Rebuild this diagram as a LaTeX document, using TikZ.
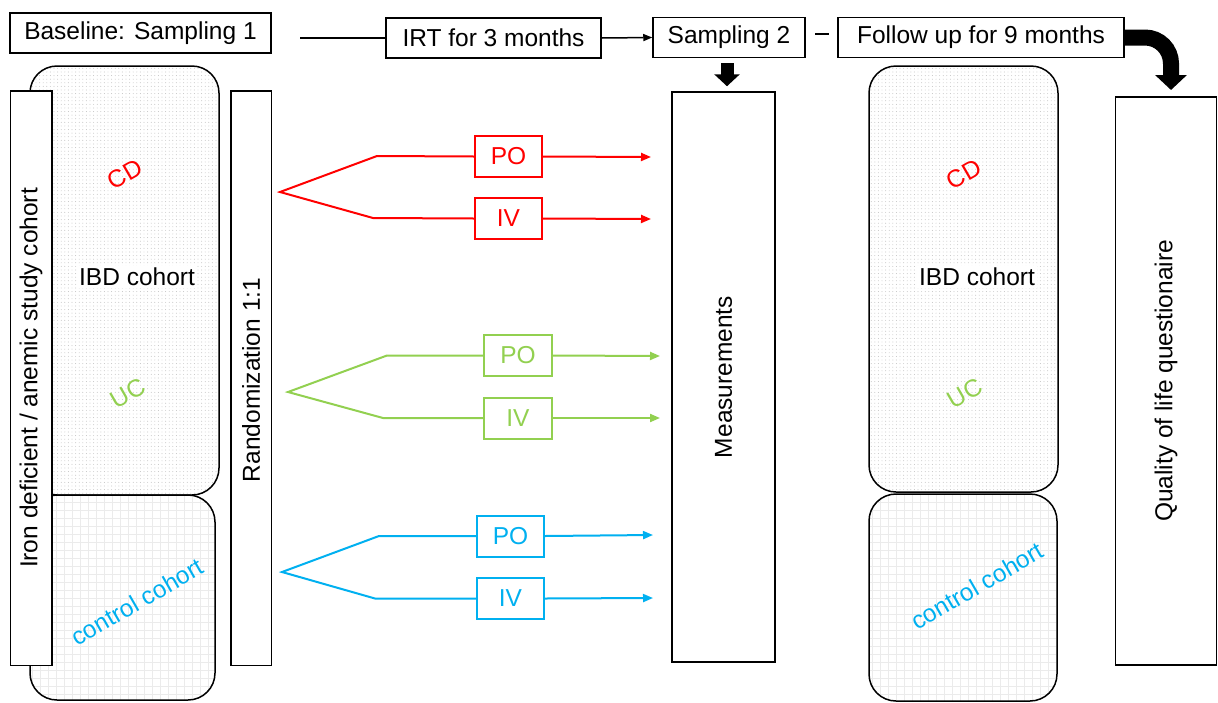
\documentclass[tikz,border=0pt]{standalone}
\usepackage{fontspec}
\setmainfont{Liberation Sans}
\usetikzlibrary{arrows.meta,patterns.meta}
\definecolor{cred}{RGB}{255,0,0}
\definecolor{cgreen}{RGB}{146,208,80}
\definecolor{cblue}{RGB}{0,176,240}
\begin{document}
\begin{tikzpicture}[x=1pt,y=-1pt,
  every node/.style={font=\fontsize{24.5}{28}\selectfont, inner sep=0pt},
  topbox/.style={draw, line width=1.5pt, minimum height=40pt},
  tallbox/.style={draw, line width=1.5pt, fill=white},
  vlabel/.style={rotate=90},
  ibd/.style={draw, line width=1.5pt, rounded corners=27pt, pattern={Dots[distance=3.6pt,radius=0.45pt]}, pattern color=gray!55},
  ctrl/.style={draw, line width=1.5pt, rounded corners=27pt, pattern={Hatch[angle=0,distance=8pt,line width=0.6pt]}, pattern color=gray!16},
  armbox/.style={draw, line width=2pt, minimum width=67pt, minimum height=41pt},
  arm/.style={line width=2pt},
  armarrow/.style={line width=2pt, -{Triangle[length=10pt,width=8pt]}},
  thin arrow/.style={line width=1.5pt, -{Triangle[length=9pt,width=7pt]}}
]
\useasboundingbox (0,0) rectangle (1218,702);
\fill[white] (0,0) rectangle (1218,702);

% ---------- top bar ----------
\node[topbox, minimum width=261pt] (base) at (140.5,33) {Baseline: Sampling 1};
\node[topbox, minimum width=215pt] (irt) at (493.5,38) {IRT for 3 months};
\node[topbox, minimum width=152pt] (s2) at (729,37.5) {Sampling 2};
\node[topbox, minimum width=286pt] (fu) at (981,37.5) {Follow up for 9 months};
\coordinate (blstart) at (300,38);
\draw[line width=1.5pt] (blstart) -- (irt.west);
\draw[thin arrow] (irt.east) -- (s2.west);
\coordinate (dasha) at (815,34);
\coordinate (dashb) at (829,34);
\draw[line width=2.5pt] (dasha) -- (dashb);

% ---------- left cohorts ----------
\draw[ibd] (30,66) rectangle (219,495);
\draw[ctrl] (30,495) rectangle (215,700);
\node[fill=white, inner sep=2pt] (libd) at (137,277) {IBD cohort};
\node[text=cred, rotate=30] (lcd) at (125,174) {CD};
\node[text=cgreen, rotate=30] (luc) at (128,393) {UC};
\node[text=cblue, rotate=30] (lctrl) at (137,602) {control cohort};

\draw[tallbox] (10.5,91) rectangle (52,665.5);
\node[vlabel] (iron) at (31,378) {Iron deficient / anemic study cohort};
\draw[tallbox] (231,91) rectangle (271.5,665.5);
\node[vlabel] (rand) at (251,380) {Randomization 1:1};

% ---------- arms ----------
% red
\coordinate (rb) at (280,192);
\coordinate (ru) at (377,156);
\coordinate (rl) at (373,218);
\node[armbox, draw=cred, text=cred] (rpo) at (508.5,156.5) {PO};
\node[armbox, draw=cred, text=cred] (riv) at (508.5,218.5) {IV};
\coordinate (rpoe) at (651,157);
\coordinate (rive) at (651,219);
\draw[arm, cred] (rpo.west) -- (ru) -- (rb) -- (rl) -- (riv.west);
\draw[armarrow, cred] (rpo.east) -- (rpoe);
\draw[armarrow, cred] (riv.east) -- (rive);
% green
\coordinate (gb) at (288,392);
\coordinate (gu) at (387,355.5);
\coordinate (gl) at (383,418);
\node[armbox, draw=cgreen, text=cgreen, minimum width=68pt] (gpo) at (518,355.5) {PO};
\node[armbox, draw=cgreen, text=cgreen, minimum width=68pt] (giv) at (518,418) {IV};
\coordinate (gpoe) at (660,356);
\coordinate (give) at (660,418);
\draw[arm, cgreen] (gpo.west) -- (gu) -- (gb) -- (gl) -- (giv.west);
\draw[armarrow, cgreen] (gpo.east) -- (gpoe);
\draw[armarrow, cgreen] (giv.east) -- (give);
% blue
\coordinate (bb) at (282,572);
\coordinate (bu) at (379,536);
\coordinate (bl) at (375,598.5);
\node[armbox, draw=cblue, text=cblue] (bpo) at (510.5,536) {PO};
\node[armbox, draw=cblue, text=cblue] (biv) at (510.5,598.5) {IV};
\coordinate (bpoe) at (653,535);
\coordinate (bive) at (653,598);
\draw[arm, cblue] (bpo.west) -- (bu) -- (bb) -- (bl) -- (biv.west);
\draw[armarrow, cblue] (bpo.east) -- (bpoe);
\draw[armarrow, cblue] (biv.east) -- (bive);

% ---------- measurements ----------
\node[tallbox, minimum width=103pt, minimum height=570pt] (meas) at (723.5,377) {};
\node[vlabel] (meastxt) at (meas.center) {Measurements};
\draw[line width=13pt, -{Triangle[width=25pt,length=12pt]}, shorten <=5pt, shorten >=5pt]
  (s2.south -| 727,0) -- (meas.north -| 727,0);

% ---------- right cohorts ----------
\draw[ibd] (869,66) rectangle (1058,492);
\draw[ctrl] (869,494) rectangle (1057,701);
\node[fill=white, inner sep=2pt] (ribd) at (977,277) {IBD cohort};
\node[text=cred, rotate=30] (rcd) at (964,174) {CD};
\node[text=cgreen, rotate=30] (ruc) at (965,393) {UC};
\node[text=cblue, rotate=30] (rctrl) at (977,586) {control cohort};

% ---------- quality ----------
\node[tallbox, minimum width=101pt, minimum height=568pt] (qol) at (1166,381) {};
\node[vlabel] (qoltxt) at (qol.center) {Quality of life questionaire};
\coordinate (qtop) at (1171,97);
\draw[line width=16pt, rounded corners=26pt, -{Triangle[width=31pt,length=15pt]}, shorten >=7pt]
  (fu.east) -| (qtop);
\end{tikzpicture}
\end{document}
